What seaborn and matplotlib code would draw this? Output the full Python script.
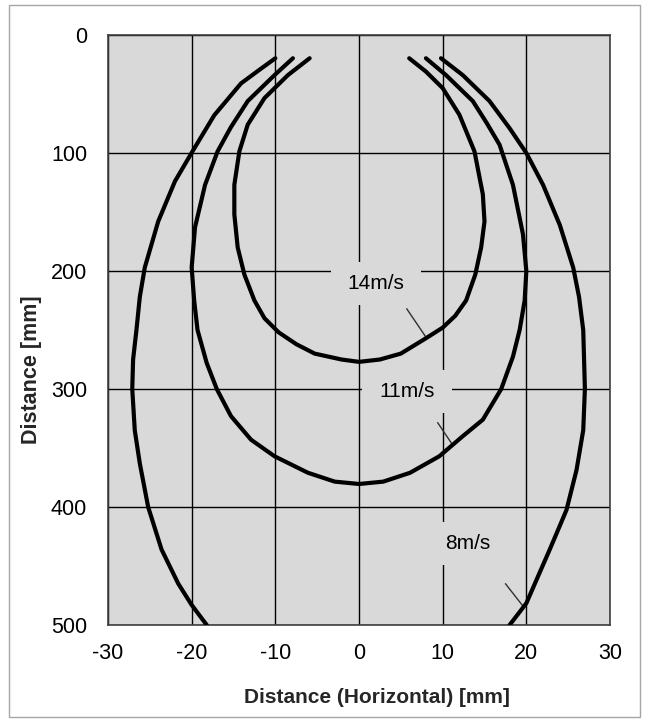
import pandas as pd
import matplotlib
matplotlib.use("Agg")
import matplotlib.pyplot as plt
import seaborn as sns
from matplotlib.patches import Rectangle

# curve outlines (x in mm, depth in mm)
x_14 = [-5.9, -8.5, -11.3, -13.3, -14.3, -14.9, -14.9, -14.5, -13.7, -12.5, -11.3, -9.6, -7.5, -5.3, -2.1, 0.0,
        2.5, 5.0, 8.0, 10.0, 11.5, 12.8, 13.9, 14.6, 15.0, 14.8, 13.8, 12.0, 10.0, 8.0, 6.0]
y_14 = [19.7, 34, 53.5, 76, 98.6, 127, 152, 180, 203, 225, 240, 252, 262, 270, 275, 277,
        275, 270, 257, 248, 238, 225, 203, 180, 158, 135, 98.6, 67.6, 45, 31, 19.7]

x_11 = [-7.9, -10.1, -13.3, -15.3, -16.9, -18.4, -19.6, -20.0, -19.7, -19.3, -18.2, -17.0, -15.3, -12.9, -10.1, -6.1, -2.9, 0.0,
        2.9, 6.1, 9.6, 12.4, 14.8, 17.0, 18.4, 19.2, 19.8, 20.0, 19.6, 18.4, 16.8, 15.3, 13.6, 10.4, 8.0]
y_11 = [19.7, 34, 56, 78, 98.6, 127, 163, 197, 225, 250, 278, 300, 323, 343, 357, 371, 378.5, 380.5,
        378.5, 371, 357, 340, 326, 300, 272.6, 250, 225, 200, 169, 127, 93, 75, 56, 34, 19.7]

x_8_left = [-10.0, -12.0, -14.1, -17.3, -19.9, -22.0, -24.0, -25.6, -26.2, -26.6, -27.0, -27.1, -26.8, -26.2, -25.2,
            -23.6, -21.6, -20.0, -18.2]
y_8_left = [19.7, 30, 41, 68, 98.6, 124, 158, 197, 222, 250, 275, 300, 335, 363, 400,
            436, 465, 483, 500]

x_8_right = [9.8, 12.4, 15.6, 18.0, 20.0, 22.0, 24.0, 25.6, 26.3, 26.8, 27.0, 26.8, 26.0, 24.8, 22.8, 21.2, 20.0, 18.0]
y_8_right = [19.7, 34, 56, 79, 100, 127, 161, 197, 222, 250, 300, 335, 368.6, 402.5, 436, 462, 481.6, 500]

labels = ["14m/s", "11m/s", "8m/s"]
label_x = [2.0, 5.7, 13.0]
label_y = [211, 302, 431]
# leader lines: (x0, y0, x1, y1)
leaders = [(5.7, 232, 8.0, 256), (9.4, 328.5, 11.2, 347.5), (17.5, 465, 19.6, 484)]

x_ticks = [-30, -20, -10, 0, 10, 20, 30]
y_ticks = [0, 100, 200, 300, 400, 500]

parts = [("14", x_14, y_14), ("11", x_11, y_11), ("8L", x_8_left, y_8_left), ("8R", x_8_right, y_8_right)]
df = pd.concat([pd.DataFrame({"branch": b, "x": xs, "y": ys}) for b, xs, ys in parts], ignore_index=True)

sns.set_theme(style="white")
plt.rcParams['font.family'] = ['Liberation Sans', 'DejaVu Sans']
plt.rcParams['axes.unicode_minus'] = False

bg = "#d9d9d9"
fig = plt.figure(figsize=(6.51, 7.22), dpi=100)
ax = fig.add_axes([108 / 651, 1 - 625 / 722, 502 / 651, 590 / 722])
ax.set_facecolor(bg)

sns.lineplot(data=df, x="x", y="y", units="branch", estimator=None, sort=False,
             color="black", lw=3, ax=ax, legend=False, zorder=3,
             solid_joinstyle="round", solid_capstyle="round")

ax.set_xlim(-30, 30)
ax.set_ylim(500, 0)
ax.set_xticks(x_ticks)
ax.set_yticks(y_ticks)
ax.set_axisbelow(True)
ax.grid(True, color="black", lw=1)
ax.tick_params(length=0, labelsize=15.5, colors="black")
ax.tick_params(axis="y", pad=15)
ax.tick_params(axis="x", pad=13)

for s in ax.spines.values():
    s.set_visible(True)
    s.set_color("#404040")
    s.set_linewidth(1.2)

# label boxes (same colour as the plot area, hide the grid lines)
bw, bh = 90 / 502 * 60, 43 / 590 * 500
for txt, lx, ly in zip(labels, label_x, label_y):
    ax.add_patch(Rectangle((lx - bw / 2, ly - bh / 2), bw, bh, facecolor=bg, edgecolor="none", zorder=1))
    ax.text(lx, ly, txt, ha="center", va="center", fontsize=15, color="black", zorder=4)
for x0, y0, x1, y1 in leaders:
    ax.plot([x0, x1], [y0, y1], color="#303030", lw=1, zorder=2)

ax.set_xlabel("Distance (Horizontal) [mm]", fontsize=15, fontweight="bold")
ax.set_ylabel("Distance [mm]", fontsize=15.5, fontweight="bold")
ax.xaxis.set_label_coords((377 - 108) / 502, -(688 - 625) / 590)
ax.yaxis.set_label_coords((42 - 108) / 502, 1 - (370 - 35) / 590)

fig.add_artist(Rectangle((9 / 651, 1 - 717 / 722), 631 / 651, 712 / 722, transform=fig.transFigure,
                         fill=False, edgecolor="#a6a6a6", lw=1))

fig.savefig("out.png", dpi=100)
